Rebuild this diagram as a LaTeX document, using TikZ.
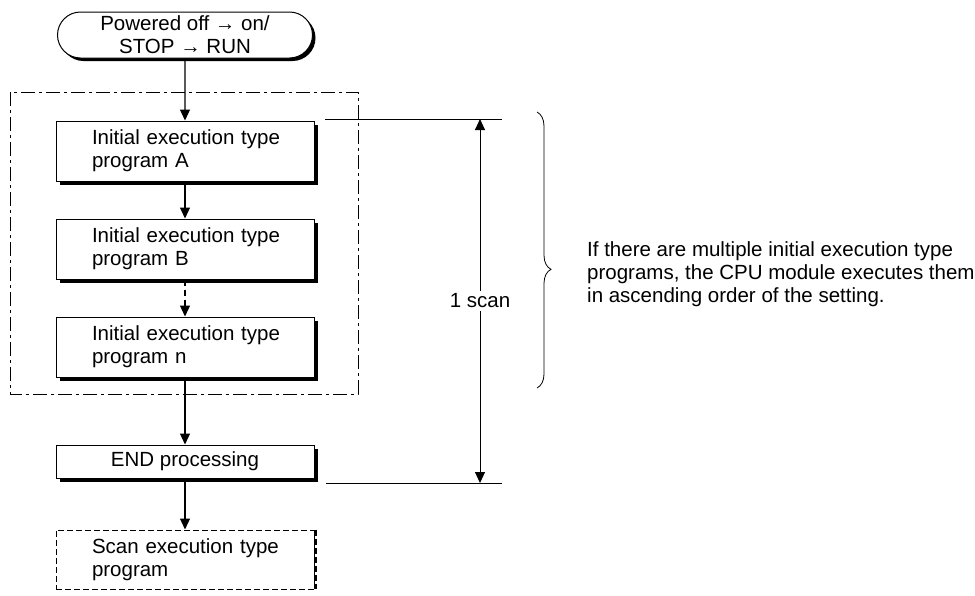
\documentclass[tikz,border=0pt]{standalone}
\usepackage{fontspec}
\setmainfont{Liberation Sans}
\usepackage{tikz}
\usetikzlibrary{arrows.meta,positioning,shapes.misc,shadows,decorations.pathreplacing}
\tikzset{
    startbox/.style={
        draw,
        rounded rectangle,
        line width=1pt,
        align=center,
        minimum width=255pt,
        minimum height=46pt,
        inner sep=0pt,
        fill=white,
        drop shadow={shadow xshift=3pt, shadow yshift=-3pt, fill=black, opacity=1}
    },
    progbox/.style={
        draw,
        line width=1pt,
        align=left,
        text width=222pt,
        inner xsep=0pt,
        inner ysep=0pt,
        minimum width=258pt,
        minimum height=60pt,
        execute at begin node={\leftskip=18pt},
        fill=white,
        drop shadow={shadow xshift=4pt, shadow yshift=-4pt, fill=black, opacity=1}
    },
    endbox/.style={
        draw,
        line width=1pt,
        align=center,
        minimum width=258pt,
        minimum height=33pt,
        inner sep=0pt,
        fill=white,
        drop shadow={shadow xshift=4pt, shadow yshift=-4pt, fill=black, opacity=1}
    },
    scanbox/.style={
        draw,
        line width=0.8pt,
        dash pattern=on 6pt off 3pt,
        align=left,
        text width=222pt,
        inner xsep=0pt,
        inner ysep=0pt,
        minimum width=258pt,
        minimum height=59pt,
        execute at begin node={\leftskip=18pt}
    },
    scanedge/.style={
        line width=3pt,
        dash pattern=on 6pt off 3pt
    },
    flow/.style={
        -{Triangle[length=11pt,width=10pt]},
        line width=1.1pt
    },
    flowdashed/.style={
        flow,
        dash pattern=on 6pt off 4pt
    },
    groupframe/.style={
        line width=0.9pt,
        dash pattern=on 14pt off 4pt on 3pt off 4pt
    },
    dimline/.style={
        line width=0.9pt
    },
    scanarrow/.style={
        {Triangle[length=11pt,width=10pt]}-{Triangle[length=11pt,width=10pt]},
        line width=0.9pt
    }
}

\begin{document}
\begin{tikzpicture}[x=1pt, y=-1pt, font=\fontsize{20.5pt}{23pt}\selectfont]
    \useasboundingbox (0,0) rectangle (975,595);

    % group of initial execution type programs
    \draw[groupframe] (10,92) rectangle (358,394);

    \node[startbox] (start) at (185,35) {Powered off → on/\\STOP → RUN};

    \node[progbox, below=62pt of start] (progA) {Initial execution type\\program A};
    \node[progbox, below=37pt of progA] (progB) {Initial execution type\\program B};
    \node[progbox, below=37pt of progB] (progN) {Initial execution type\\program n};

    \node[endbox, below=67pt of progN] (endproc) {END processing};
    \node[scanbox, below=51pt of endproc] (scan) {Scan execution type\\program};
    \draw[scanedge] ([xshift=1.5pt]scan.north east) -- ([xshift=1.5pt]scan.south east);

    \draw[flow] (start) -- (progA);
    \draw[flow] (progA) -- (progB);
    \draw[flowdashed] (progB) -- (progN);
    \draw[flow] (progN) -- (endproc);
    \draw[flow] (endproc) -- (scan);

    % one scan
    \coordinate (topL) at (325,119);
    \coordinate (topR) at (502,119);
    \coordinate (botL) at (326,483);
    \coordinate (botR) at (502,483);
    \coordinate (scantop) at (480,119);
    \coordinate (scanbot) at (480,483);
    \draw[dimline] (topL) -- (topR);
    \draw[dimline] (botL) -- (botR);
    \draw[scanarrow] (scantop) -- node[fill=white, inner sep=3pt] (scanlabel) {1 scan} (scanbot);

    % note
    \coordinate (bracetop) at (537,112);
    \coordinate (bracebot) at (537,388);
    \draw[line width=0.8pt, decorate, decoration={brace, amplitude=14pt, aspect=0.57}] (bracetop) -- (bracebot);
    \node[anchor=west, align=left, inner sep=3pt] (note) at (584,274) {If there are multiple initial execution type\\programs, the CPU module executes them\\in ascending order of the setting.};
\end{tikzpicture}
\end{document}
